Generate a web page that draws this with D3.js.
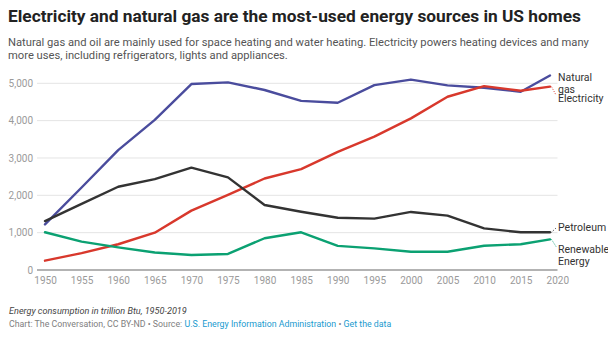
<!DOCTYPE html>
<html>
<head>
<meta charset="utf-8">
<script src="https://cdn.jsdelivr.net/npm/d3@7"></script>
<style>
  body { margin: 0; background: #fff; font-family: Roboto, sans-serif; }
  svg { display: block; }
  .axis text { font-family: Roboto, sans-serif; font-size: 10px; fill: #9a9a9a; }
  .axis .domain { display: none; }
  .lbl { font-family: Roboto, sans-serif; font-size: 10.5px; fill: #333; }
</style>
</head>
<body>
<svg width="608" height="339"></svg>
<script>
var years = [1950, 1955, 1960, 1965, 1970, 1975, 1980, 1985, 1990, 1995, 2000, 2005, 2010, 2015, 2019];
var naturalGas = [1220, 2210, 3210, 4020, 4980, 5025, 4820, 4530, 4480, 4950, 5100, 4945, 4880, 4775, 5210];
var electricity = [250, 450, 690, 1000, 1590, 2010, 2450, 2700, 3165, 3570, 4060, 4640, 4925, 4800, 4910];
var petroleum = [1310, 1770, 2230, 2435, 2740, 2480, 1740, 1560, 1400, 1375, 1555, 1455, 1115, 1010, 1010];
var renewable = [1010, 760, 605, 470, 400, 430, 850, 1010, 645, 580, 490, 490, 650, 690, 820];
var yTicks = [0, 1000, 2000, 3000, 4000, 5000];
var xTicks = d3.range(1950, 2021, 5);

var series = [
  {name: ["Natural", "gas"], values: naturalGas, color: "#4a4c9d", labelY: 77.5, leader: false},
  {name: ["Electricity"], values: electricity, color: "#d8382c", labelY: 98, leader: true},
  {name: ["Petroleum"], values: petroleum, color: "#333333", labelY: 227, leader: true},
  {name: ["Renewable", "Energy"], values: renewable, color: "#0ba172", labelY: 249.5, leader: true}
];

var svg = d3.select("svg");

var x = d3.scaleLinear().domain([1950, 2020]).range([45, 557.3]);
var y = d3.scaleLinear().domain([0, 5000]).range([270, 83.3]);
var gridLeft = 37, gridRight = 557.5;

// title and subtitle
svg.append("text")
    .attr("x", 8).attr("y", 21.5)
    .attr("font-size", 17.3).attr("font-weight", 700).attr("fill", "#222")
    .text("Electricity and natural gas are the most-used energy sources in US homes");

var sub = svg.append("text")
    .attr("font-size", 11.2).attr("fill", "#555");
sub.append("tspan").attr("x", 8).attr("y", 45.5)
    .text("Natural gas and oil are mainly used for space heating and water heating. Electricity powers heating devices and many");
sub.append("tspan").attr("x", 8).attr("y", 59)
    .text("more uses, including refrigerators, lights and appliances.");

// gridlines
svg.append("g").selectAll("line")
    .data(yTicks.slice(1))
    .enter().append("line")
    .attr("x1", gridLeft).attr("x2", gridRight)
    .attr("y1", function(d) { return y(d); })
    .attr("y2", function(d) { return y(d); })
    .attr("stroke", "#e4e4e4").attr("stroke-width", 1);

svg.append("line")
    .attr("x1", gridLeft).attr("x2", gridRight)
    .attr("y1", y(0)).attr("y2", y(0))
    .attr("stroke", "#9a9a9a").attr("stroke-width", 1.5);

svg.append("g")
    .attr("class", "axis")
    .attr("transform", "translate(" + gridLeft + ",0)")
    .call(d3.axisLeft(y).tickValues(yTicks).tickSize(0).tickPadding(4).tickFormat(d3.format(",")));

svg.append("g")
    .attr("class", "axis")
    .attr("transform", "translate(0," + y(0) + ")")
    .call(d3.axisBottom(x).tickValues(xTicks).tickSize(0).tickPadding(7).tickFormat(d3.format("d")));

var line = d3.line()
    .x(function(d, i) { return x(years[i]); })
    .y(function(d) { return y(d); });

svg.append("g").selectAll("path")
    .data(series)
    .enter().append("path")
    .attr("d", function(s) { return line(s.values); })
    .attr("fill", "none")
    .attr("stroke", function(s) { return s.color; })
    .attr("stroke-width", 2.4)
    .attr("stroke-linejoin", "round")
    .attr("stroke-linecap", "round");

// end labels with dotted leaders
var lastYear = years[years.length - 1];
series.forEach(function(s) {
  var endY = y(s.values[s.values.length - 1]);
  if (s.leader) {
    var ty = s.labelY < endY ? s.labelY + 1 : s.labelY - 3;
    svg.append("line")
        .attr("x1", x(lastYear) + 1.5).attr("y1", endY)
        .attr("x2", 556).attr("y2", ty)
        .attr("stroke", s.color).attr("stroke-width", 1)
        .attr("stroke-dasharray", "1,1.5");
  }
  var t = svg.append("text").attr("class", "lbl");
  s.name.forEach(function(n, i) {
    t.append("tspan").attr("x", 558).attr("y", s.labelY + 3.8 + i * 11.8).text(n);
  });
});

// notes
svg.append("text")
    .attr("x", 9).attr("y", 313.5)
    .attr("font-size", 9.1).attr("font-style", "italic").attr("fill", "#444")
    .text("Energy consumption in trillion Btu, 1950-2019");

var src = svg.append("text")
    .attr("x", 9).attr("y", 327)
    .attr("font-size", 8.8).attr("fill", "#808080");
src.append("tspan").text("Chart: The Conversation, CC BY-ND \u2022 Source: ");
src.append("tspan").attr("fill", "#1a9bcf").text("U.S. Energy Information Administration");
src.append("tspan").text(" \u2022 ");
src.append("tspan").attr("fill", "#1a9bcf").text("Get the data");
</script>
</body>
</html>
